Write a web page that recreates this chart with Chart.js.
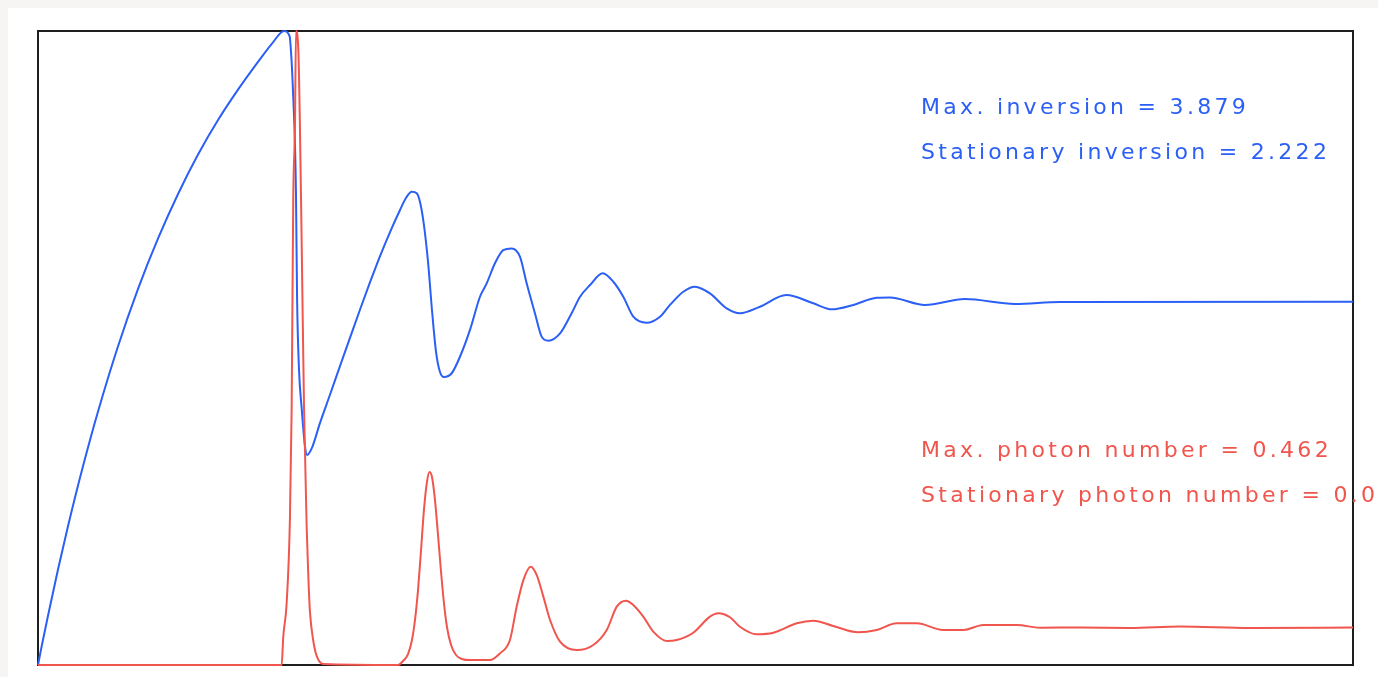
<!DOCTYPE html>
<html>
<head>
<meta charset="utf-8">
<script src="https://cdn.jsdelivr.net/npm/chart.js"></script>
<style>
  html, body { margin: 0; padding: 0; background: #f6f5f3; overflow: hidden; }
  canvas { display: block; }
</style>
</head>
<body>
<canvas id="laser" width="1378" height="677"></canvas>
<script>
// time axis (arbitrary units, 0..100 across the frame)
const invTime = [0, 0.30, 0.76, 1.52, 2.28, 3.42, 4.56, 6.08, 7.60, 9.13, 10.65, 12.17, 13.69, 15.21, 16.73,
  17.87, 18.71, 19.13, 19.28, 19.41, 19.54, 19.62, 19.70, 19.85, 20.05, 20.30, 20.46, 20.84, 21.44, 22.21,
  22.97, 23.73, 24.49, 25.25, 26.01, 26.77, 27.53, 27.98, 28.42, 28.80, 29.05, 29.35, 29.66, 29.96, 30.27,
  30.57, 30.87, 31.46, 32.09, 32.85, 33.61, 34.12, 34.75, 35.38, 36.02, 36.65, 37.16, 37.79, 38.30, 38.81,
  39.70, 40.58, 41.22, 41.98, 42.94, 43.75, 44.51, 45.27, 46.29, 47.30, 48.06, 49.07, 49.96, 51.10, 52.37,
  53.38, 54.90, 56.90, 58.96, 60.36, 62.00, 63.78, 64.79, 67.45, 70.49, 74.30, 77.72, 100];
const inversion = [0, 0.123, 0.301, 0.584, 0.849, 1.216, 1.550, 1.949, 2.300, 2.610, 2.882, 3.123, 3.334,
  3.520, 3.690, 3.810, 3.879, 3.848, 3.702, 3.475, 3.188, 2.876, 2.252, 1.805, 1.572, 1.340, 1.285, 1.330,
  1.480, 1.655, 1.830, 2.003, 2.175, 2.342, 2.502, 2.649, 2.784, 2.857, 2.896, 2.886, 2.833, 2.692, 2.466,
  2.172, 1.915, 1.793, 1.762, 1.785, 1.886, 2.050, 2.253, 2.335, 2.458, 2.539, 2.549, 2.498, 2.335, 2.152,
  2.009, 1.984, 2.029, 2.152, 2.253, 2.325, 2.397, 2.345, 2.253, 2.131, 2.094, 2.131, 2.203, 2.284, 2.315,
  2.274, 2.182, 2.152, 2.192, 2.264, 2.213, 2.176, 2.203, 2.247, 2.249, 2.203, 2.239, 2.209, 2.221, 2.222];

const photTime = [0, 18.53, 18.65, 18.91, 19.16, 19.29, 19.41, 19.54, 19.62, 19.80, 19.92, 20.05, 20.23, 20.43,
  20.56, 20.68, 20.94, 21.19, 21.70, 27.38, 27.76, 28.14, 28.44, 28.67, 28.90, 29.13, 29.35, 29.58, 29.77,
  29.96, 30.19, 30.42, 30.65, 30.87, 31.10, 31.41, 31.79, 32.24, 32.85, 34.37, 35.13, 35.89, 36.40, 36.91,
  37.47, 37.92, 38.43, 38.94, 39.70, 40.97, 42.23, 43.25, 44.01, 44.71, 45.27, 46.03, 46.79, 47.81, 48.57,
  49.83, 51.10, 51.73, 52.62, 53.38, 54.65, 55.92, 57.70, 58.96, 60.48, 62.38, 63.78, 65.30, 66.82, 68.84,
  70.37, 71.89, 74.43, 76.20, 79.24, 83.04, 86.84, 92.17, 100];
const photons = [0, 0, 0.0204, 0.0452, 0.1071, 0.1873, 0.3389, 0.3917, 0.462, 0.4474, 0.3917, 0.3082, 0.1873,
  0.1009, 0.0637, 0.0389, 0.0173, 0.0066, 0.0007, 0, 0.0029, 0.0080, 0.0182, 0.0328, 0.0547, 0.0838, 0.1130,
  0.1334, 0.1406, 0.1370, 0.1202, 0.0947, 0.0678, 0.0452, 0.0277, 0.0146, 0.0073, 0.0044, 0.0036, 0.0036,
  0.0085, 0.0182, 0.0425, 0.0619, 0.0716, 0.0656, 0.0498, 0.0328, 0.0170, 0.0109, 0.0146, 0.0255, 0.0425,
  0.0469, 0.0437, 0.0352, 0.0243, 0.0175, 0.0182, 0.0235, 0.0352, 0.0377, 0.0348, 0.0279, 0.0224, 0.0235,
  0.0304, 0.0323, 0.0284, 0.0238, 0.0255, 0.0304, 0.0304, 0.0255, 0.0255, 0.0291, 0.0291, 0.0272, 0.0273,
  0.0270, 0.0281, 0.0270, 0.0273];

const maxInversion = 3.879;
const statInversion = 2.222;
const maxPhotons = 0.462;
const statPhotons = 0.027;

const blue = "#2b5ff5";
const red = "#f0564d";

const toPts = (xs, ys) => xs.map((x, i) => ({ x: x, y: ys[i] }));

const frame = {
  id: "frame",
  beforeDraw(chart) {
    const ctx = chart.ctx;
    ctx.save();
    ctx.fillStyle = "#f6f5f3";
    ctx.fillRect(0, 0, chart.width, chart.height);
    ctx.fillStyle = "#ffffff";
    ctx.fillRect(8, 8, chart.width - 8, chart.height - 8);
    ctx.restore();
  },
  beforeDatasetsDraw(chart) {
    const a = chart.chartArea;
    const ctx = chart.ctx;
    ctx.save();
    ctx.strokeStyle = "#1e1e1e";
    ctx.lineWidth = 2;
    ctx.strokeRect(a.left, a.top, a.right - a.left, a.bottom - a.top);
    ctx.restore();
  },
  afterDraw(chart) {
    const ctx = chart.ctx;
    ctx.save();
    ctx.font = "22px 'DejaVu Sans'";
    ctx.letterSpacing = "3.3px";
    ctx.textBaseline = "alphabetic";
    ctx.fillStyle = blue;
    ctx.fillText("Max. inversion = " + maxInversion.toFixed(3), 921, 114);
    ctx.fillText("Stationary inversion = " + statInversion.toFixed(3), 921, 159);
    ctx.fillStyle = red;
    ctx.fillText("Max. photon number = " + maxPhotons.toFixed(3), 921, 457);
    ctx.fillText("Stationary photon number = " + statPhotons.toFixed(3), 921, 502);
    ctx.restore();
  }
};

new Chart("laser", {
  type: "line",
  data: {
    datasets: [
      {
        label: "Photon number",
        data: toPts(photTime, photons),
        borderColor: red,
        borderWidth: 2,
        pointRadius: 0,
        cubicInterpolationMode: "monotone",
        yAxisID: "y2",
        order: 0,
        clip: 2
      },
      {
        label: "Inversion",
        data: toPts(invTime, inversion),
        borderColor: blue,
        borderWidth: 2,
        pointRadius: 0,
        cubicInterpolationMode: "monotone",
        yAxisID: "y",
        order: 1,
        clip: 2
      }
    ]
  },
  options: {
    responsive: false,
    animation: false,
    layout: { padding: { left: 38, top: 31, right: 25, bottom: 12 } },
    plugins: { legend: { display: false }, tooltip: { enabled: false } },
    scales: {
      x: { type: "linear", min: 0, max: 100, display: false },
      y: { min: 0, max: maxInversion, display: false },
      y2: { min: 0, max: maxPhotons, display: false, position: "right" }
    }
  },
  plugins: [frame]
});
</script>
</body>
</html>
